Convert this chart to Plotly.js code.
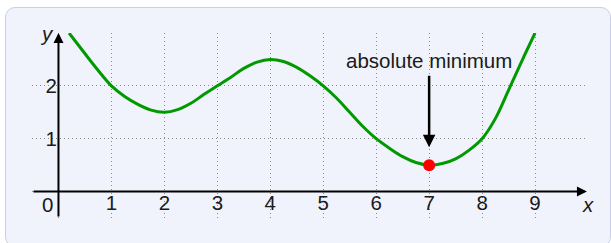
<!DOCTYPE html>
<html>
<head>
<meta charset="utf-8">
<script src="https://cdn.plot.ly/plotly-3.0.1.min.js"></script>
<style>
  html, body { margin: 0; padding: 0; background: #ffffff; overflow: hidden; }
  #frame { position: absolute; left: 5px; top: 7px; width: 606px; height: 240px; box-sizing: border-box;
           border: 1.5px solid #c9cfea; border-radius: 10px; background: #f0f3fb; }
  #chart { position: absolute; left: 0; top: 0; width: 611px; height: 243px; }
</style>
</head>
<body>
<div id="frame"></div>
<div id="chart"></div>
<script>
// Points along the curve, read (estimated) from the picture
const curveX = [0.2, 0.4, 0.6, 0.8, 1, 1.25, 1.5, 1.75, 2, 2.25, 2.5, 2.75, 3, 3.25, 3.5, 3.75, 4,
                4.25, 4.5, 4.75, 5, 5.25, 5.5, 5.75, 6, 6.25, 6.5, 6.75, 7, 7.25, 7.5, 7.75, 8, 8.25, 8.5, 8.75, 9];
const curveY = [3, 2.74, 2.48, 2.23, 2, 1.8, 1.65, 1.54, 1.5, 1.55, 1.67, 1.84, 2, 2.16, 2.33, 2.45, 2.5,
                2.46, 2.35, 2.19, 2, 1.77, 1.5, 1.23, 1, 0.82, 0.66, 0.55, 0.5, 0.53, 0.62, 0.78, 1, 1.38, 1.92, 2.47, 3];
// Marked absolute minimum
const minX = [7];
const minY = [0.5];
const minLabel = 'absolute minimum';
// Ticks / grid
const xTickVals = [-0.5, 0, 1, 2, 3, 4, 5, 6, 7, 8, 9, 10];
const xTickText = ['', '', '1', '2', '3', '4', '5', '6', '7', '8', '9', ''];
const yTickVals = [-0.5, 0, 1, 2, 3];
const yTickText = ['', '', '1', '2', ''];
const originLabel = '0';
const xName = 'x', yName = 'y';

const font = {family: 'Liberation Sans, Arial, sans-serif', size: 20.5, color: '#1a1a1a'};

const traces = [
  {x: curveX, y: curveY, mode: 'lines', line: {color: '#009900', width: 3, shape: 'spline', smoothing: 1},
   hoverinfo: 'skip', cliponaxis: false},
  {x: minX, y: minY, mode: 'markers', marker: {color: '#ff0000', size: 12}, hoverinfo: 'skip', cliponaxis: false}
];

const gridStyle = {showgrid: true, gridcolor: '#8a8a8a', gridwidth: 1, griddash: '1px,3px',
  zeroline: false, showline: false, ticks: '', fixedrange: true};

const layout = {
  width: 611, height: 243,
  margin: {l: 31.5, r: 23, t: 33, b: 25},
  paper_bgcolor: 'rgba(0,0,0,0)', plot_bgcolor: 'rgba(0,0,0,0)',
  showlegend: false,
  font: font,
  xaxis: Object.assign({}, gridStyle, {range: [-0.5, 10], tickmode: 'array', tickvals: xTickVals, ticktext: xTickText,
    anchor: 'free', position: 26.5 / 185.5, tickfont: font, ticklabelstandoff: -3}),
  yaxis: Object.assign({}, gridStyle, {range: [-0.5, 3], tickmode: 'array', tickvals: yTickVals, ticktext: yTickText,
    anchor: 'free', position: 27 / 556.5, tickfont: font, ticklabelstandoff: 2}),
  annotations: [
    // x axis with arrow
    {x: 9.98, y: 0, ax: -0.5, ay: 0, xref: 'x', yref: 'y', axref: 'x', ayref: 'y', text: '', showarrow: true,
     arrowhead: 2, arrowsize: 1, arrowwidth: 2, arrowcolor: '#000'},
    // y axis with arrow
    {x: 0, y: 3, ax: 0, ay: -0.5, xref: 'x', yref: 'y', axref: 'x', ayref: 'y', text: '', showarrow: true,
     arrowhead: 2, arrowsize: 1, arrowwidth: 2, arrowcolor: '#000'},
    // arrow to minimum
    {x: minX[0], y: 0.84, ax: minX[0], ay: 2.22, xref: 'x', yref: 'y', axref: 'x', ayref: 'y', text: '', showarrow: true,
     arrowhead: 2, arrowsize: 1, arrowwidth: 2.5, arrowcolor: '#000'},
    {x: minX[0], y: 2.48, xref: 'x', yref: 'y', text: minLabel, showarrow: false, font: font, xanchor: 'center', yanchor: 'middle'},
    {x: 0, y: 0, xref: 'x', yref: 'y', text: originLabel, showarrow: false, font: font, xanchor: 'right', yanchor: 'top', xshift: -3, yshift: 1},
    {x: 10, y: 0, xref: 'x', yref: 'y', text: '<i>' + xName + '</i>', showarrow: false, font: font, xanchor: 'center', yanchor: 'top', yshift: 1},
    {x: 0, y: 3, xref: 'x', yref: 'y', text: '<i>' + yName + '</i>', showarrow: false, font: font, xanchor: 'right', yanchor: 'middle', xshift: -2}
  ]
};

Plotly.newPlot('chart', traces, layout, {staticPlot: true, displayModeBar: false});
</script>
</body>
</html>
